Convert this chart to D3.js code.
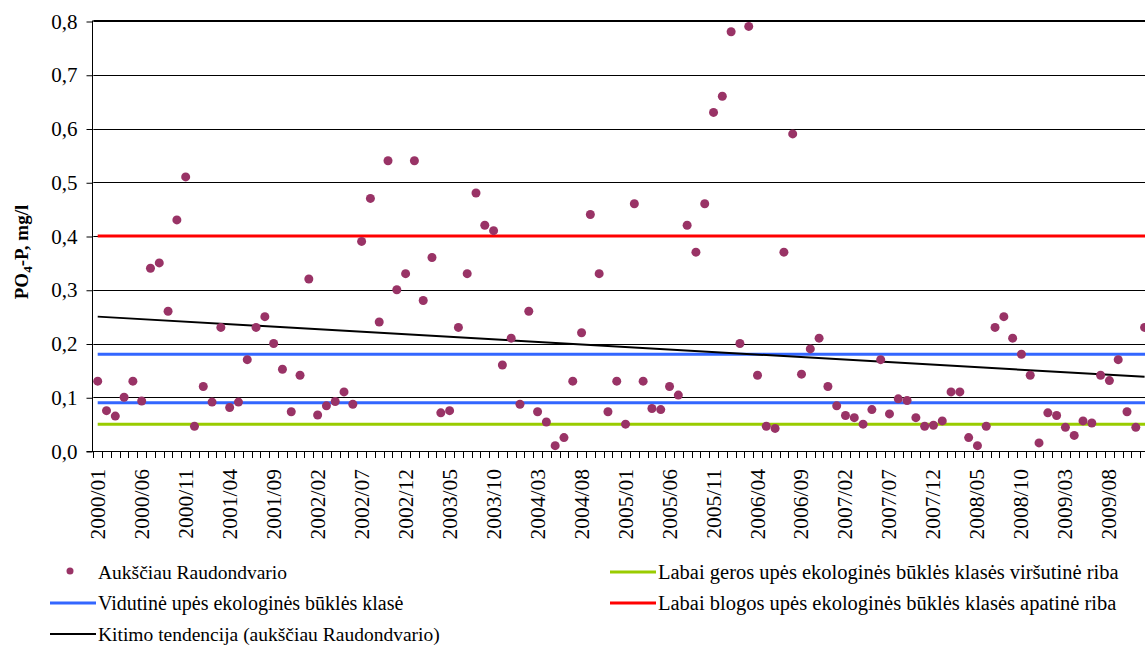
<!DOCTYPE html>
<html>
<head>
<meta charset="utf-8">
<script src="https://cdn.jsdelivr.net/npm/d3@7"></script>
<style>
  html, body { margin: 0; padding: 0; background: #fff; }
  svg { display: block; }
</style>
</head>
<body>
<svg id="chart" width="1145" height="649"></svg>
<script>
// ---------- DATA ----------
const years = ["2000","2001","2002","2003","2004","2005","2006","2007","2008","2009"];
const months = ["01","02","03","04","05","06","07","08","09","10","11","12"];
const categories = [];
years.forEach(y => months.forEach(m => categories.push(y + "/" + m)));

const valuesRaudondvaris = [
  0.13, 0.075, 0.065, 0.10, 0.13, 0.093, 0.34, 0.35, 0.26, 0.43, 0.51, 0.046,
  0.12, 0.091, 0.23, 0.081, 0.091, 0.17, 0.23, 0.25, 0.20, 0.152, 0.073, 0.141,
  0.32, 0.067, 0.084, 0.092, 0.11, 0.087, 0.39, 0.47, 0.24, 0.54, 0.30, 0.33,
  0.54, 0.28, 0.36, 0.071, 0.075, 0.23, 0.33, 0.48, 0.42, 0.41, 0.16, 0.21,
  0.087, 0.26, 0.073, 0.054, 0.010, 0.025, 0.13, 0.22, 0.44, 0.33, 0.073, 0.13,
  0.05, 0.46, 0.13, 0.079, 0.077, 0.12, 0.104, 0.42, 0.37, 0.46, 0.63, 0.66,
  0.78, 0.20, 0.79, 0.141, 0.046, 0.042, 0.37, 0.59, 0.143, 0.19, 0.21, 0.12,
  0.084, 0.066, 0.062, 0.05, 0.077, 0.17, 0.069, 0.097, 0.094, 0.062, 0.046, 0.048,
  0.056, 0.11, 0.11, 0.025, 0.010, 0.046, 0.23, 0.25, 0.21, 0.18, 0.141, 0.015,
  0.071, 0.066, 0.044, 0.029, 0.056, 0.052, 0.141, 0.131, 0.17, 0.073, 0.044, 0.23
];

const thresholdVeryGood = 0.05;     // green
const thresholdModerateLow = 0.09;  // blue
const thresholdModerateHigh = 0.18; // blue
const thresholdVeryBad = 0.40;      // red
const trendValues = [0.25, 0.138];  // trend line at first and last month

const yTicks = [0, 0.1, 0.2, 0.3, 0.4, 0.5, 0.6, 0.7, 0.8];
const xLabelEvery = 5;

const legendLabels = {
  dots: "Aukščiau Raudondvario",
  blue: "Vidutinė upės ekologinės būklės klasė",
  trend: "Kitimo tendencija (aukščiau Raudondvario)",
  green: "Labai geros upės ekologinės būklės klasės viršutinė riba",
  red: "Labai blogos upės ekologinės būklės klasės apatinė riba"
};

// ---------- STYLE ----------
const FONT = "'Liberation Serif', 'Times New Roman', Times, serif";
const colDot = "#993366";
const colBlue = "#3366FF";
const colGreen = "#99CC00";
const colRed = "#FF0000";

const plot = { left: 93.3, right: 1149, top: 21, bottom: 451 };

const svg = d3.select("#chart");

const x = d3.scaleBand().domain(categories).range([plot.left, plot.right]).padding(0);
const xc = d => x(d) + x.bandwidth() / 2;
const y = d3.scaleLinear().domain([0, 0.8]).range([plot.bottom, plot.top]);

// gridlines
svg.append("g").selectAll("line").data(yTicks.filter(t => t > 0)).join("line")
  .attr("x1", plot.left).attr("x2", plot.right)
  .attr("y1", d => Math.round(y(d)) + 0.5).attr("y2", d => Math.round(y(d)) + 0.5)
  .attr("stroke", "#000").attr("stroke-width", 1);
// top border
svg.append("line").attr("x1", plot.left).attr("x2", plot.right)
  .attr("y1", Math.round(y(0.8)) - 0.5).attr("y2", Math.round(y(0.8)) - 0.5)
  .attr("stroke", "#000").attr("stroke-width", 1);

// Y axis
const yAxis = d3.axisLeft(y).tickValues(yTicks).tickSize(6).tickPadding(9)
  .tickFormat(d => d3.format(".1f")(d).replace(".", ","));
const gy = svg.append("g").attr("transform", `translate(${Math.round(plot.left) - 0.5},0.5)`).call(yAxis);
gy.attr("font-family", null).attr("font-size", null);
gy.selectAll("text").style("font-family", FONT).style("font-size", "21px").attr("fill", "#000");
gy.selectAll("line,path").attr("stroke", "#000");
gy.select(".domain").attr("d", `M-6,${Math.round(y(0))}H0V${Math.round(y(0.8))-1}`);

// X axis (ticks between categories)
const xAxisG = svg.append("g");
xAxisG.append("line").attr("x1", plot.left - 6).attr("x2", plot.right)
  .attr("y1", Math.round(y(0)) + 0.5).attr("y2", Math.round(y(0)) + 0.5).attr("stroke", "#000");
xAxisG.selectAll("line.tick").data(categories).join("line").attr("class", "tick")
  .attr("x1", d => Math.round(x(d)) + 0.5).attr("x2", d => Math.round(x(d)) + 0.5)
  .attr("y1", Math.round(y(0))).attr("y2", Math.round(y(0)) + 7).attr("stroke", "#000");
xAxisG.selectAll("text").data(categories.filter((d, i) => i % xLabelEvery === 0)).join("text")
  .attr("transform", d => `translate(${xc(d) + 7},469) rotate(-90)`)
  .attr("text-anchor", "end")
  .style("font-family", FONT)
  .style("font-size", "21.5px")
  .text(d => d);

// Y axis title
const yt = svg.append("text")
  .attr("transform", "translate(28,252) rotate(-90)")
  .attr("text-anchor", "middle")
  .style("font-family", FONT)
  .style("font-size", "19px").style("font-weight", "bold");
yt.append("tspan").text("PO");
yt.append("tspan").text("4").style("font-size", "13px").attr("dy", 4);
yt.append("tspan").text("-P, mg/l").attr("dy", -4);

// threshold lines (from first to last month)
const firstC = categories[0], lastC = categories[categories.length - 1];
const hLines = [
  { v: thresholdVeryGood, c: colGreen },
  { v: thresholdModerateLow, c: colBlue },
  { v: thresholdModerateHigh, c: colBlue },
  { v: thresholdVeryBad, c: colRed }
];
svg.append("g").selectAll("line").data(hLines).join("line")
  .attr("x1", xc(firstC)).attr("x2", xc(lastC) + 4)
  .attr("y1", d => y(d.v)).attr("y2", d => y(d.v))
  .attr("stroke", d => d.c).attr("stroke-width", 3);

// trend line
svg.append("line")
  .attr("x1", xc(firstC)).attr("y1", y(trendValues[0]))
  .attr("x2", xc(lastC)).attr("y2", y(trendValues[1]))
  .attr("stroke", "#000").attr("stroke-width", 2);

// points
svg.append("g").selectAll("circle").data(valuesRaudondvaris).join("circle")
  .attr("cx", (d, i) => xc(categories[i]))
  .attr("cy", d => y(d))
  .attr("r", 4.5)
  .attr("fill", colDot);

// legend
const lg = svg.append("g");
const rows = [
  { x: 50, y: 572, type: "dot", c: colDot, t: legendLabels.dots, fs: 19.5 },
  { x: 50, y: 603, type: "line", c: colBlue, t: legendLabels.blue, fs: 20 },
  { x: 50, y: 634, type: "line", c: "#000", t: legendLabels.trend, fs: 19.5 },
  { x: 610, y: 572, type: "line", c: colGreen, t: legendLabels.green, fs: 20.5 },
  { x: 610, y: 603, type: "line", c: colRed, t: legendLabels.red, fs: 20.5 }
];
rows.forEach(r => {
  if (r.type === "dot") {
    lg.append("circle").attr("cx", r.x + 20).attr("cy", r.y - 1).attr("r", 3.5).attr("fill", r.c);
  } else {
    lg.append("line").attr("x1", r.x).attr("x2", r.x + 46).attr("y1", r.y).attr("y2", r.y)
      .attr("stroke", r.c).attr("stroke-width", r.c === "#000" ? 2 : 3);
  }
  lg.append("text").attr("x", r.x + 48).attr("y", r.y).attr("dy", "0.35em")
    .style("font-family", FONT).style("font-size", r.fs + "px").text(r.t);
});
</script>
</body>
</html>
